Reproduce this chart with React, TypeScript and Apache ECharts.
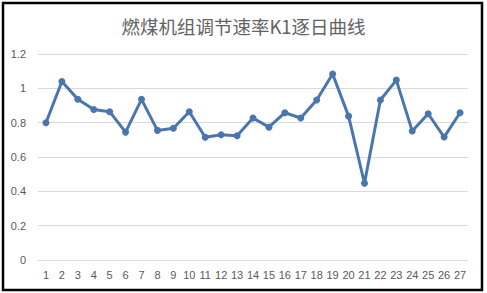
import React, { useEffect, useRef } from "react";
import * as echarts from "echarts";

const categories: string[] = [
  "1", "2", "3", "4", "5", "6", "7", "8", "9", "10", "11", "12", "13", "14",
  "15", "16", "17", "18", "19", "20", "21", "22", "23", "24", "25", "26", "27",
];
const k1Values: number[] = [
  0.8, 1.04, 0.936, 0.877, 0.864, 0.745, 0.936, 0.755, 0.767, 0.864, 0.715,
  0.73, 0.724, 0.827, 0.774, 0.858, 0.827, 0.932, 1.083, 0.838, 0.447, 0.932,
  1.048, 0.751, 0.852, 0.716, 0.858,
];
const yTicks: number[] = [0, 0.2, 0.4, 0.6, 0.8, 1, 1.2];
const titleText = "燃煤机组调节速率K1逐日曲线";

export default function App() {
  const ref = useRef<HTMLDivElement>(null);
  useEffect(() => {
    if (!ref.current) return;
    const chart = echarts.init(ref.current, null, { renderer: "svg" });
    chart.setOption({
      animation: false,
      backgroundColor: "#ffffff",
      title: {
        text: titleText,
        left: "center",
        top: 12,
        textStyle: {
          color: "#636363",
          fontSize: 18.5,
          fontWeight: "normal",
          fontFamily: "Noto Sans CJK SC",
        },
      },
      graphic: [
        {
          type: "rect",
          shape: { x: 3, y: 3, width: 479, height: 287 },
          style: { fill: "none", stroke: "#000000", lineWidth: 2.5 },
          silent: true,
        },
      ],
      grid: { left: 38, right: 19, top: 54, bottom: 33, containLabel: false },
      xAxis: {
        type: "category",
        data: categories,
        boundaryGap: true,
        axisLine: { show: false },
        axisTick: { show: false },
        axisLabel: {
          color: "#595959",
          fontSize: 11,
          fontFamily: "Liberation Sans",
          margin: 9,
          interval: 0,
        },
      },
      yAxis: {
        type: "value",
        min: yTicks[0],
        max: yTicks[yTicks.length - 1],
        interval: 0.2,
        axisLine: { show: false },
        axisTick: { show: false },
        splitLine: { lineStyle: { color: "#d9d9d9", width: 1 } },
        axisLabel: {
          color: "#595959",
          fontSize: 11,
          fontFamily: "Liberation Sans",
          margin: 12,
          formatter: (v: number) => String(Math.round(v * 10) / 10),
        },
      },
      series: [
        {
          type: "line",
          data: k1Values,
          symbol: "circle",
          symbolSize: 7,
          lineStyle: { color: "#4a76b0", width: 3 },
          itemStyle: { color: "#4a76b0" },
        },
      ],
    });
    return () => chart.dispose();
  }, []);
  return (
    <div
      ref={ref}
      style={{ position: "fixed", left: 0, top: 0, width: 487, height: 293 }}
    />
  );
}
